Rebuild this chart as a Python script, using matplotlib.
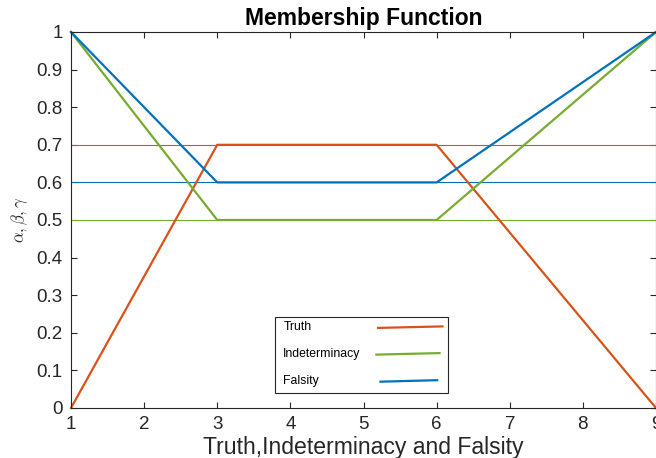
import matplotlib
matplotlib.use('Agg')
import matplotlib.pyplot as plt

plt.rcParams['font.family'] = ['Liberation Sans', 'DejaVu Sans']
plt.rcParams['mathtext.fontset'] = 'cm'

# data
x_pts = [1, 3, 6, 9]
truth = [0, 0.7, 0.7, 0]
indeterminacy = [1, 0.5, 0.5, 1]
falsity = [1, 0.6, 0.6, 1]
levels = [0.7, 0.5, 0.6]
x_ticks = [1, 2, 3, 4, 5, 6, 7, 8, 9]
y_ticks = [0, 0.1, 0.2, 0.3, 0.4, 0.5, 0.6, 0.7, 0.8, 0.9, 1]
y_tick_labels = ['0', '0.1', '0.2', '0.3', '0.4', '0.5', '0.6', '0.7', '0.8', '0.9', '1']
names = ['Truth', 'Indeterminacy', 'Falsity']

colors = {
    'Truth': '#D95319',
    'Indeterminacy': '#77AC30',
    'Falsity': '#0072BD',
}
axis_color = '#262626'

fig = plt.figure(figsize=(6.56, 4.58), dpi=100)
ax = fig.add_axes([71 / 656, 50 / 458, 585 / 656, 376 / 458])

# thin reference levels
for lvl, name in zip(levels, names):
    ax.plot([x_ticks[0], x_ticks[-1]], [lvl, lvl], color=colors[name], lw=0.8)

# membership curves
for vals, name in zip([truth, indeterminacy, falsity], names):
    ax.plot(x_pts, vals, color=colors[name], lw=1.6, clip_on=False)

ax.set_xlim(1, 9)
ax.set_ylim(0, 1)
ax.set_xticks(x_ticks)
ax.set_yticks(y_ticks)
ax.set_yticklabels(y_tick_labels)
ax.tick_params(direction='in', length=4, width=0.8, top=True, right=True,
               labelsize=13.5, colors=axis_color)
ax.tick_params(axis='x', pad=6)
ax.tick_params(axis='y', pad=6)
for sp in ax.spines.values():
    sp.set_color(axis_color)
    sp.set_linewidth(0.8)

ax.set_title('Membership Function', fontsize=16.5, fontweight='bold',
             color='black', pad=5)
ax.set_xlabel('Truth,Indeterminacy and Falsity', fontsize=16.6,
              color=axis_color, va='center')
ax.xaxis.set_label_coords(0.5, -0.104)
ax.set_ylabel(r'$\alpha,\beta,\gamma$', fontsize=12, color=axis_color,
              va='center')
ax.yaxis.set_label_coords(-0.088, 0.5)

# MATLAB-style legend: text left, line sample right
box = plt.Rectangle((0.349, 0.040), 0.296, 0.202, transform=ax.transAxes,
                    facecolor='white', edgecolor=axis_color, lw=0.8,
                    zorder=5)
ax.add_patch(box)
rows_y = [0.215, 0.144, 0.072]
line_x = [(0.525, 0.635), (0.522, 0.630), (0.529, 0.626)]
for name, ry, (lx0, lx1) in zip(names, rows_y, line_x):
    ax.text(0.363, ry, name, transform=ax.transAxes, fontsize=8.8,
            color='black', ha='left', va='center', zorder=6)
    ax.plot([lx0, lx1], [ry - 0.002, ry + 0.002], transform=ax.transAxes,
            color=colors[name], lw=1.6, zorder=6)

fig.savefig('out.png', dpi=100)
